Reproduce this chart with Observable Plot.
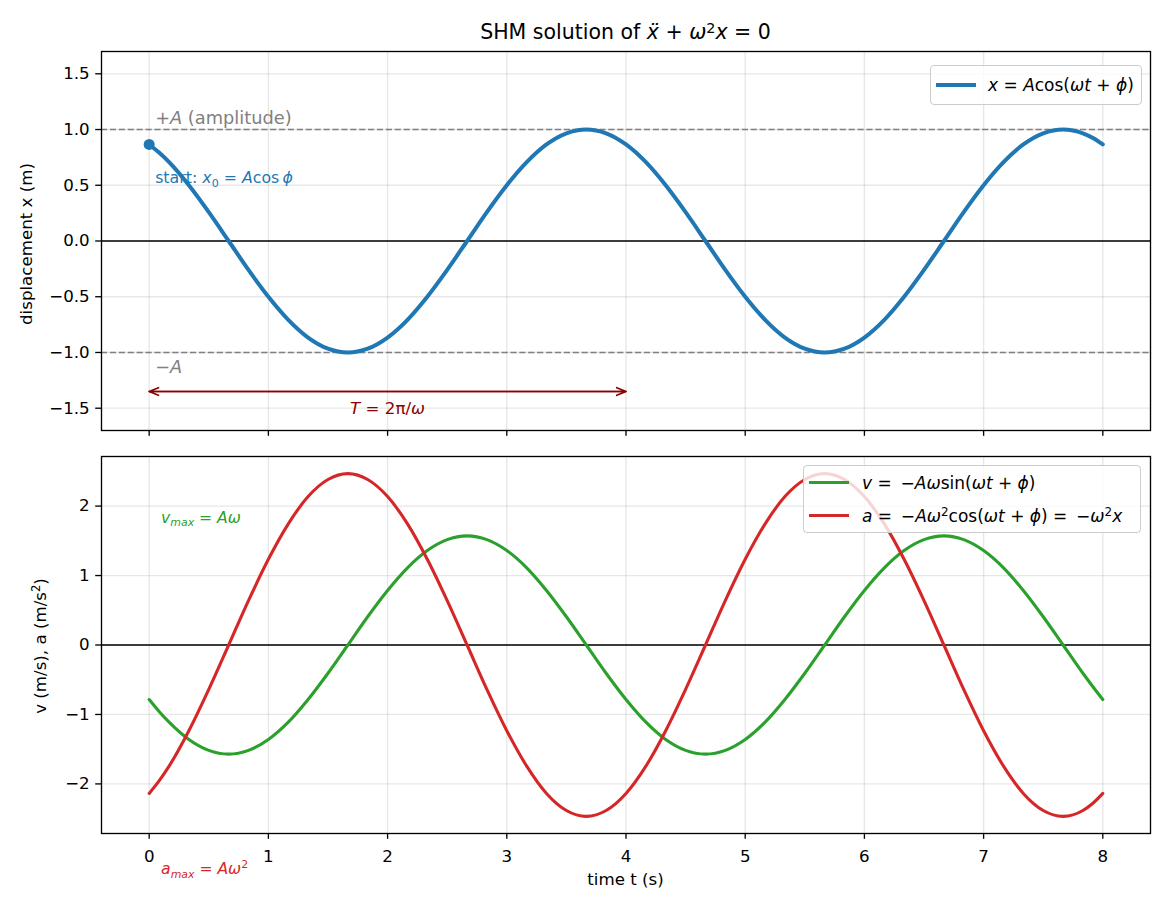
<!DOCTYPE html>
<html><head><meta charset="utf-8">
<script src="https://cdn.jsdelivr.net/npm/d3@7"></script>
<script src="https://cdn.jsdelivr.net/npm/@observablehq/plot@0.6"></script>
<style>
body{margin:0;background:#fff;font-family:"DejaVu Sans",sans-serif;}
#wrap{position:relative;width:1170px;height:910px;overflow:hidden;background:#fff;}
#wrap > svg{position:absolute;left:0;}
.lbl{position:absolute;white-space:nowrap;font-size:16.67px;color:#000;line-height:1;}
sup{font-size:70%;vertical-align:0.45em;line-height:0;}
sub{font-size:70%;vertical-align:-0.22em;line-height:0;}
.legend{position:absolute;background:rgba(255,255,255,0.8);border:1.3px solid #cccccc;border-radius:4px;box-sizing:border-box;}
.legend .sw{position:absolute;height:0;}
.legend .tx{position:absolute;white-space:nowrap;font-size:17px;line-height:1;transform:translateY(-50%);color:#000;}
</style></head><body><div id="wrap"></div>
<script>
// ---------- data ----------
const time = [0, 0.083, 0.167, 0.333, 0.5, 0.667, 0.833, 1, 1.167, 1.333, 1.5, 1.667, 1.833, 2, 2.167, 2.333, 2.5, 2.667, 2.833, 3, 3.167, 3.333, 3.5, 3.667, 3.833, 4, 4.167, 4.333, 4.5, 4.667, 4.833, 5, 5.167, 5.333, 5.5, 5.667, 5.833, 6, 6.167, 6.333, 6.5, 6.667, 6.833, 7, 7.167, 7.333, 7.5, 7.667, 7.833, 7.917, 8];
const displacement = [0.866, 0.793, 0.707, 0.5, 0.259, 0, -0.259, -0.5, -0.707, -0.866, -0.966, -1, -0.966, -0.866, -0.707, -0.5, -0.259, 0, 0.259, 0.5, 0.707, 0.866, 0.966, 1, 0.966, 0.866, 0.707, 0.5, 0.259, 0, -0.259, -0.5, -0.707, -0.866, -0.966, -1, -0.966, -0.866, -0.707, -0.5, -0.259, 0, 0.259, 0.5, 0.707, 0.866, 0.966, 1, 0.966, 0.924, 0.866];
const velocity = [-0.785, -0.956, -1.111, -1.36, -1.517, -1.571, -1.517, -1.36, -1.111, -0.785, -0.407, 0, 0.407, 0.785, 1.111, 1.36, 1.517, 1.571, 1.517, 1.36, 1.111, 0.785, 0.407, 0, -0.407, -0.785, -1.111, -1.36, -1.517, -1.571, -1.517, -1.36, -1.111, -0.785, -0.407, 0, 0.407, 0.785, 1.111, 1.36, 1.517, 1.571, 1.517, 1.36, 1.111, 0.785, 0.407, 0, -0.407, -0.601, -0.785];
const acceleration = [-2.137, -1.957, -1.744, -1.234, -0.639, 0, 0.639, 1.234, 1.744, 2.137, 2.383, 2.467, 2.383, 2.137, 1.744, 1.234, 0.639, 0, -0.639, -1.234, -1.744, -2.137, -2.383, -2.467, -2.383, -2.137, -1.744, -1.234, -0.639, 0, 0.639, 1.234, 1.744, 2.137, 2.383, 2.467, 2.383, 2.137, 1.744, 1.234, 0.639, 0, -0.639, -1.234, -1.744, -2.137, -2.383, -2.467, -2.383, -2.279, -2.137];

const xTicks = [0, 1, 2, 3, 4, 5, 6, 7, 8];
const topYTicks = [-1.5, -1, -0.5, 0, 0.5, 1, 1.5];
const bottomYTicks = [-2, -1, 0, 1, 2];
const amplitudeLines = [1, -1];
const zeroLine = [0];
const startPoint = [{t: 0, x: 0.866}];
const periodArrowT = [0, 4];
const periodArrowY = -1.35;

const topNotes = [
  {t: 0.05, y: 1.10, text: "+*A* (amplitude)", color: "#808080", size: 17.8, anchor: "start"},
  {t: 0.05, y: 0.565, text: "start: *x*_{0} = *A*cos\u2009*ϕ*", color: "#1f77b4", size: 15.8, anchor: "start"},
  {t: 0.05, y: -1.13, text: "\u2212*A*", color: "#808080", size: 17.8, anchor: "start"},
  {t: 2, y: -1.50, text: "*T* = 2π/*ω*", color: "#8b0000", size: 16.67, anchor: "middle"}
];
const bottomNotes = [
  {t: 0.1, y: 1.835, text: "*v*_{*max*} = *Aω*", color: "#2ca02c", size: 15.6, anchor: "start"},
  {t: 0.1, y: -3.23, text: "*a*_{*max*} = *Aω*^{2}", color: "#d62728", size: 15.6, anchor: "start"}
];

const titleText = "SHM solution of *x\u0308* + *ω*^{2}*x* = 0";
const topYLabel = "displacement x (m)";
const bottomYLabel = "v (m/s), a (m/s^{2})";
const xLabel = "time t (s)";
const topLegend = [{label: "*x* = *A*cos(*ωt* + *ϕ*)", color: "#1f77b4", width: 4}];
const bottomLegend = [
  {label: "*v* = \u2009\u2212*Aω*sin(*ωt* + *ϕ*)", color: "#2ca02c", width: 3.1},
  {label: "*a* = \u2009\u2212*Aω*^{2}cos(*ωt* + *ϕ*) = \u2009\u2212*ω*^{2}*x*", color: "#d62728", width: 3.1}
];

// ---------- rich text helpers ----------
function parseRich(s) {
  const segs = []; let it = false, shift = 0, buf = "";
  const flush = () => { if (buf) { segs.push({t: buf, it, shift}); buf = ""; } };
  for (let i = 0; i < s.length; i++) {
    const c = s[i];
    if (c === "*") { flush(); it = !it; }
    else if ((c === "_" || c === "^") && s[i + 1] === "{") { flush(); shift = c === "_" ? 1 : -1; i++; }
    else if (c === "}" && shift !== 0) { flush(); shift = 0; }
    else buf += c;
  }
  flush();
  return segs;
}
function esc(s) { return s.replace(/&/g, "&amp;").replace(/</g, "&lt;"); }
function richHTML(s) {
  return parseRich(s).map(g => {
    let h = esc(g.t);
    if (g.it) h = `<i>${h}</i>`;
    if (g.shift === 1) h = `<sub>${h}</sub>`;
    if (g.shift === -1) h = `<sup>${h}</sup>`;
    return h;
  }).join("");
}
function richSVG(el) {
  const F = parseFloat(getComputedStyle(el).fontSize) || 16.67;
  const segs = parseRich(el.textContent);
  el.textContent = "";
  let cur = 0;
  for (const g of segs) {
    const ts = document.createElementNS("http://www.w3.org/2000/svg", "tspan");
    const target = g.shift === 1 ? 0.22 * F : g.shift === -1 ? -0.42 * F : 0;
    if (target !== cur) { ts.setAttribute("dy", (target - cur).toFixed(2)); cur = target; }
    if (g.it) ts.setAttribute("font-style", "italic");
    if (g.shift) ts.setAttribute("font-size", (0.7 * F).toFixed(2));
    ts.textContent = g.t;
    el.appendChild(ts);
  }
}

// ---------- plots ----------
const rows = time.map((t, i) => ({t, x: displacement[i], v: velocity[i], a: acceleration[i]}));
const W = 1170, ML = 101, MR = 20;
const style = {fontFamily: '"DejaVu Sans", sans-serif', fontSize: "16.67px", background: "transparent", overflow: "visible", color: "black"};
const gridStyle = {stroke: "#b0b0b0", strokeOpacity: 0.3, strokeWidth: 1.33};
const arrowData = [
  {x1: periodArrowT[0], x2: periodArrowT[1], y: periodArrowY},
  {x1: periodArrowT[1], x2: periodArrowT[0], y: periodArrowY}
];
const noteMarks = notes => notes.map(n => Plot.text([n], {
  x: "t", y: "y", text: "text", fill: n.color, fontSize: n.size,
  textAnchor: n.anchor, lineAnchor: "middle"
}));

const topPlot = Plot.plot({
  width: W, height: 440, marginLeft: ML, marginRight: MR, marginTop: 51, marginBottom: 10,
  style,
  x: {domain: [-0.4, 8.4], label: null},
  y: {domain: [-1.7, 1.7], label: null},
  marks: [
    Plot.gridX(xTicks, gridStyle),
    Plot.gridY(topYTicks, gridStyle),
    Plot.ruleY(amplitudeLines, {stroke: "#808080", strokeWidth: 1.67, strokeDasharray: "6.2,2.7"}),
    Plot.ruleY(zeroLine, {stroke: "black", strokeWidth: 1.33}),
    Plot.line(rows, {x: "t", y: "x", stroke: "#1f77b4", strokeWidth: 4, curve: "monotone-x"}),
    Plot.dot(startPoint, {x: "t", y: "x", r: 5.5, fill: "#1f77b4"}),
    Plot.arrow(arrowData, {x1: "x1", x2: "x2", y1: "y", y2: "y", stroke: "#8b0000", strokeWidth: 1.67, headLength: 9, headAngle: 45}),
    ...noteMarks(topNotes),
    Plot.axisX(xTicks, {tickSize: 5.8, tickFormat: () => "", label: null, strokeWidth: 1.33}),
    Plot.axisY(topYTicks, {tickSize: 5.8, tickPadding: 6, tickFormat: d3.format(".1f"), label: null, strokeWidth: 1.33}),
    Plot.frame({stroke: "black", strokeWidth: 1.33})
  ]
});

const bottomPlot = Plot.plot({
  width: W, height: 470, marginLeft: ML, marginRight: MR, marginTop: 16, marginBottom: 77,
  style,
  x: {domain: [-0.4, 8.4], label: null},
  y: {domain: [-2.714, 2.714], label: null},
  marks: [
    Plot.gridX(xTicks, gridStyle),
    Plot.gridY(bottomYTicks, gridStyle),
    Plot.ruleY(zeroLine, {stroke: "black", strokeWidth: 1.33}),
    Plot.line(rows, {x: "t", y: "v", stroke: "#2ca02c", strokeWidth: 3.1, curve: "monotone-x"}),
    Plot.line(rows, {x: "t", y: "a", stroke: "#d62728", strokeWidth: 3.1, curve: "monotone-x"}),
    ...noteMarks(bottomNotes),
    Plot.axisX(xTicks, {tickSize: 5.8, tickPadding: 11, tickFormat: d3.format("d"), label: null, strokeWidth: 1.33}),
    Plot.axisY(bottomYTicks, {tickSize: 5.8, tickPadding: 6, tickFormat: d3.format("d"), label: null, strokeWidth: 1.33}),
    Plot.frame({stroke: "black", strokeWidth: 1.33})
  ]
});

const wrap = document.getElementById("wrap");
topPlot.style.top = "0px";
bottomPlot.style.top = "440px";
wrap.appendChild(topPlot);
wrap.appendChild(bottomPlot);

for (const svg of [topPlot, bottomPlot]) {
  svg.querySelectorAll("text").forEach(el => {
    const s = el.textContent;
    if (s.includes("*") || s.includes("_{") || s.includes("^{")) richSVG(el);
  });
}

// ---------- HTML text: title, axis labels, legends ----------
function addLabel(html, css) {
  const d = document.createElement("div");
  d.className = "lbl";
  d.innerHTML = html;
  Object.assign(d.style, css);
  wrap.appendChild(d);
  return d;
}
addLabel(richHTML(titleText), {left: "101px", width: "1049px", textAlign: "center", top: "22px", fontSize: "20.5px"});
addLabel(richHTML(topYLabel), {left: "27px", top: "244px", transform: "translate(-50%,-50%) rotate(-90deg)"});
addLabel(richHTML(bottomYLabel), {left: "41px", top: "646px", transform: "translate(-50%,-50%) rotate(-90deg)"});
addLabel(richHTML(xLabel), {left: "625.5px", top: "880px", transform: "translate(-50%,-50%)"});

function addLegend(items, box, swX, txX, rowYs) {
  const lg = document.createElement("div");
  lg.className = "legend";
  Object.assign(lg.style, {left: box.left + "px", top: box.top + "px", width: box.width + "px", height: box.height + "px"});
  items.forEach((it, i) => {
    const sw = document.createElement("div");
    sw.className = "sw";
    Object.assign(sw.style, {left: swX[0] + "px", width: (swX[1] - swX[0]) + "px", top: (rowYs[i] - it.width / 2) + "px", borderTop: `${it.width}px solid ${it.color}`});
    lg.appendChild(sw);
    const tx = document.createElement("div");
    tx.className = "tx";
    tx.innerHTML = richHTML(it.label);
    Object.assign(tx.style, {left: txX + "px", top: rowYs[i] + "px"});
    lg.appendChild(tx);
  });
  wrap.appendChild(lg);
}
addLegend(topLegend, {left: 930, top: 65, width: 212, height: 40}, [5, 45], 57, [19]);
addLegend(bottomLegend, {left: 803, top: 465, width: 338, height: 68}, [5, 45], 58, [16.5, 49.5]);
</script></body></html>
